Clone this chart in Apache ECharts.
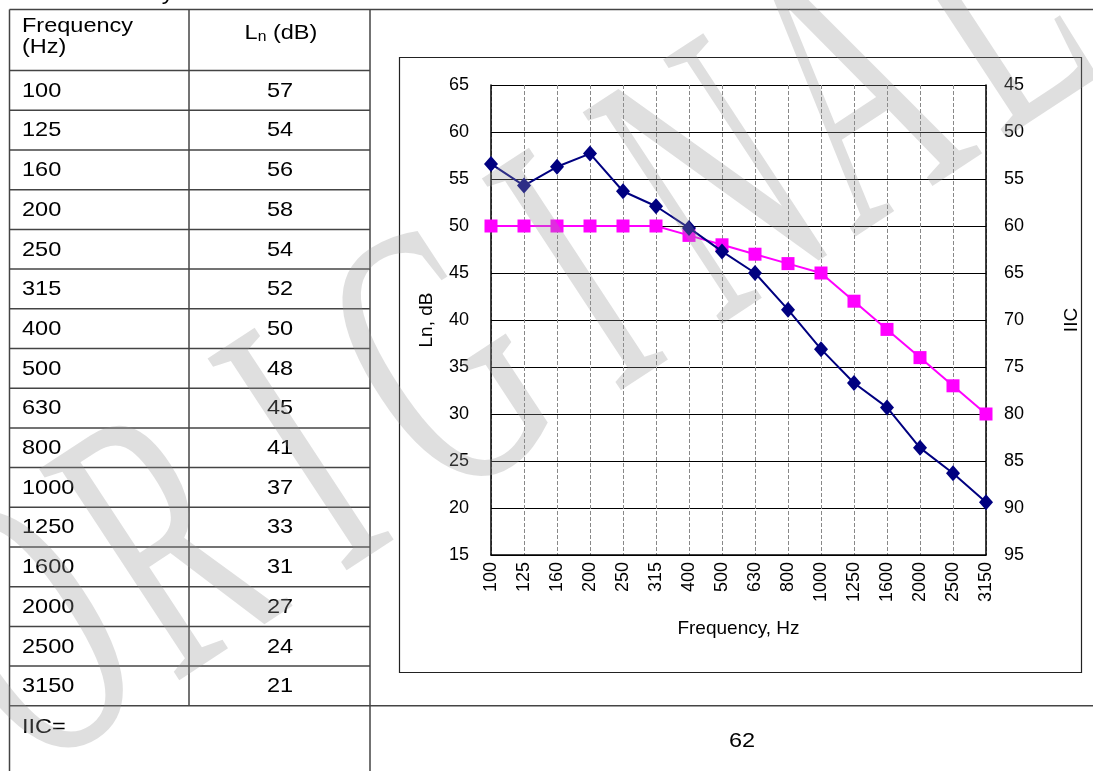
<!DOCTYPE html>
<html><head><meta charset="utf-8">
<script src="https://cdn.jsdelivr.net/npm/echarts@6/dist/echarts.min.js"></script>
<style>html,body{margin:0;padding:0;background:#fff}#c{width:1093px;height:771px}</style>
</head><body><div id="c"></div>
<script>
// ---- data ----
const frequencies = ['100','125','160','200','250','315','400','500','630','800','1000','1250','1600','2000','2500','3150'];
const tableLn = [57,54,56,58,54,52,50,48,45,41,37,33,31,27,24,21];
const measuredLn = [56.6,54.3,56.3,57.7,53.7,52.1,49.8,47.3,45.0,41.1,36.9,33.3,30.7,26.4,23.7,20.6];
const iicContour = [50,50,50,50,50,50,49,48,47,46,45,42,39,36,33,30];
const iicRating = '62';
const headerFreq = ['Frequency', '(Hz)'];
const iicLabel = 'IIC=';
const captionTail = 'system.';
const watermarkText = 'ORIGINAL';

const FONT = "'Liberation Sans', Arial, sans-serif";
const chart = echarts.init(document.getElementById('c'), null, {renderer: 'canvas'});

// ---- table graphics ----
const g = [];
const lineStyle = {stroke: '#444', lineWidth: 1.5};
const L = 9.5, C1 = 189, C2 = 370, R = 1093, T = 9.5, B = 771;
const headBottom = 70.6, rowH = 39.7;
const tableBottom = headBottom + rowH * frequencies.length;
function line(x1, y1, x2, y2) {
  g.push({type: 'line', shape: {x1, y1, x2, y2}, style: lineStyle, silent: true});
}
line(L, T, R, T);
line(L, T, L, B);
line(C1, T, C1, tableBottom);
line(C2, T, C2, B);
line(L, headBottom, C2, headBottom);
for (let i = 1; i < frequencies.length; i++) {
  const y = headBottom + rowH * i;
  line(L, y, C2, y);
}
line(L, tableBottom, R, tableBottom);

const SX = 1.12;
function text(t, x, y, align, size) {
  g.push({type: 'text', silent: true, x, y, scaleX: SX,
    style: {text: t, x: 0, y: 0, fill: '#000', font: (size || 21) + 'px ' + FONT, textAlign: align || 'left', textVerticalAlign: 'middle'}});
}
text(captionTail, 150, -6, 'left', 21);
text(headerFreq[0], 22, 26);
text(headerFreq[1], 22, 47);
g.push({type: 'text', silent: true, x: 281, y: 33, scaleX: SX, style: {
  text: '{a|L}{b|n}{a| (dB)}', x: 0, y: 0, textAlign: 'center', textVerticalAlign: 'middle',
  rich: {a: {fontSize: 21, fontFamily: FONT, fill: '#000', lineHeight: 22, verticalAlign: 'bottom'},
         b: {fontSize: 14, fontFamily: FONT, fill: '#000', lineHeight: 16, verticalAlign: 'bottom'}}
}});
frequencies.forEach((f, i) => {
  const cy = headBottom + rowH * i + rowH / 2 + 0.5;
  text(f, 22, cy);
  text(String(tableLn[i]), 280, cy, 'center');
});
text(iicLabel, 22, 727);
text(iicRating, 742, 741, 'center');

// chart frame
g.push({type: 'rect', silent: true, shape: {x: 399.5, y: 57.5, width: 682, height: 615}, style: {fill: 'none', stroke: '#222', lineWidth: 1.2}});

// watermark overlay: tall thin letters spread along the diagonal
(function () {
  const x0 = 40, y0 = 650, x1 = 1000, y1 = 20;
  const n = watermarkText.length;
  const ang = Math.atan2(y0 - y1, x1 - x0);
  for (let i = 0; i < n; i++) {
    const t = i / (n - 1);
    g.push({type: 'text', silent: true, z: 100,
      x: x0 + (x1 - x0) * t, y: y0 + (y1 - y0) * t, rotation: ang, scaleY: 1.8,
      style: {text: watermarkText[i], x: 0, y: 0, textAlign: 'center', textVerticalAlign: 'middle',
        font: "215px 'Liberation Serif', serif", fill: 'rgba(150,150,150,0.3)'}});
  }
})();

const axisText = {color: '#000', fontSize: 18, fontFamily: FONT};
const nameText = {color: '#000', fontSize: 19, fontFamily: FONT};

chart.setOption({
  backgroundColor: '#fff',
  animation: false,
  textStyle: {fontFamily: FONT},
  grid: {left: 491, top: 85, width: 495, height: 470, containLabel: false},
  xAxis: {
    type: 'category', data: frequencies, boundaryGap: false,
    name: 'Frequency, Hz', nameLocation: 'middle', nameGap: 64,
    nameTextStyle: nameText,
    axisLine: {lineStyle: {color: '#000', width: 1.5}},
    axisTick: {show: false},
    axisLabel: Object.assign({rotate: 90, margin: 7, interval: 0}, axisText),
    splitLine: {show: true, interval: 0, lineStyle: {color: '#888', type: [4, 2], width: 1}}
  },
  yAxis: [{
    type: 'value', min: 15, max: 65, interval: 5,
    name: 'Ln, dB', nameLocation: 'middle', nameGap: 55, nameRotate: 90,
    nameTextStyle: nameText,
    axisLine: {show: true, lineStyle: {color: '#000', width: 1.5}},
    axisTick: {show: true, inside: true, length: 4, lineStyle: {color: '#000'}},
    axisLabel: Object.assign({margin: 22}, axisText),
    splitLine: {show: true, lineStyle: {color: '#000', width: 1}}
  }, {
    type: 'value', min: 45, max: 95, interval: 5, inverse: true, position: 'right',
    name: 'IIC', nameLocation: 'middle', nameGap: 76, nameRotate: 90,
    nameTextStyle: nameText,
    axisLine: {show: true, lineStyle: {color: '#000', width: 1.5}},
    axisTick: {show: true, inside: true, length: 4, lineStyle: {color: '#000'}},
    axisLabel: Object.assign({margin: 18}, axisText),
    splitLine: {show: false}
  }],
  series: [{
    type: 'line', name: 'Ln', data: measuredLn, yAxisIndex: 0,
    symbol: 'diamond', symbolSize: [14, 16],
    lineStyle: {color: '#000080', width: 2},
    itemStyle: {color: '#000080'}, z: 3
  }, {
    type: 'line', name: 'IIC contour', data: iicContour, yAxisIndex: 0,
    symbol: 'rect', symbolSize: 13,
    lineStyle: {color: '#ff00ff', width: 2},
    itemStyle: {color: '#ff00ff'}, z: 2
  }],
  graphic: g
});
</script></body></html>
